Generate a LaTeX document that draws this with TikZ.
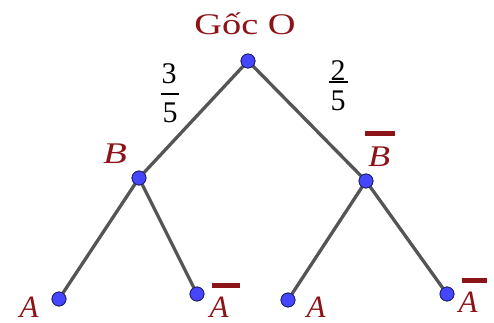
\documentclass[tikz,border=0pt]{standalone}
\usepackage{fontspec}
\setmainfont{Liberation Serif}
\definecolor{dred}{RGB}{140,20,25}
\definecolor{edgegray}{RGB}{85,85,85}
\definecolor{dotblue}{RGB}{70,70,255}
\definecolor{dotrim}{RGB}{30,30,110}
\begin{document}
\begin{tikzpicture}[x=1pt,y=-1pt,
  dot/.style={circle,fill=dotblue,draw=dotrim,line width=0.8pt,minimum size=14pt,inner sep=0pt},
  edge/.style={draw=edgegray,line width=3.3pt},
  lbl/.style={text=dred,inner sep=0pt,font=\fontsize{30}{31}\selectfont\itshape},
  albl/.style={text=dred,inner sep=0pt,font=\fontsize{31}{32}\selectfont\itshape},
  bar/.style={draw=dred,line width=5pt},
  frac/.style={inner sep=0pt,font=\fontsize{30}{31}\selectfont},
  fbar/.style={draw=black,line width=1.6pt}]
\useasboundingbox (0,0) rectangle (494,323);
% nodes
\node[dot] (O) at (248,61) {};
\node[dot] (B) at (139,178) {};
\node[dot] (Bb) at (366,181) {};
\node[dot] (A1) at (59,299) {};
\node[dot] (Ab1) at (197,294) {};
\node[dot] (A2) at (288,300) {};
\node[dot] (Ab2) at (447,294) {};
% edges
\draw[edge] (O.center) -- (B.center);
\draw[edge] (O.center) -- (Bb.center);
\draw[edge] (B.center) -- (A1.center);
\draw[edge] (B.center) -- (Ab1.center);
\draw[edge] (Bb.center) -- (A2.center);
\draw[edge] (Bb.center) -- (Ab2.center);
\foreach \n in {O,B,Bb,A1,Ab1,A2,Ab2} \node[dot] at (\n) {};
% labels
\node[text=dred,inner sep=0pt,font=\fontsize{30}{31}\selectfont] (root) at (245,24) {\scalebox{1.28}[1]{Gốc O}};
\node[lbl] (lB) at (115,154) {\scalebox{1.3}[1]{B}};
\node[lbl] (lBb) at (379,157) {\scalebox{1.2}[1]{B}};
\coordinate (bb1) at (365,134); \coordinate (bb2) at (395,134);
\draw[bar] (bb1) -- (bb2);
\node[albl] (lA1) at (29,307) {A};
\node[albl] (lAb1) at (219,307) {A};
\coordinate (ab1a) at (212,285); \coordinate (ab1b) at (240,285);
\draw[bar] (ab1a) -- (ab1b);
\node[albl] (lA2) at (316,307) {A};
\node[albl] (lAb2) at (468,302) {A};
\coordinate (ab2a) at (462,280); \coordinate (ab2b) at (487,280);
\draw[bar] (ab2a) -- (ab2b);
% fractions
\node[frac] (n3) at (169,74) {3};
\coordinate (f1a) at (161,94); \coordinate (f1b) at (179,94);
\draw[fbar] (f1a) -- (f1b);
\node[frac] (d5a) at (170,113) {5};
\node[frac] (n2) at (338,71) {2};
\coordinate (f2a) at (329,82); \coordinate (f2b) at (348,82);
\draw[fbar] (f2a) -- (f2b);
\node[frac] (d5b) at (338,101) {5};
\end{tikzpicture}
\end{document}
